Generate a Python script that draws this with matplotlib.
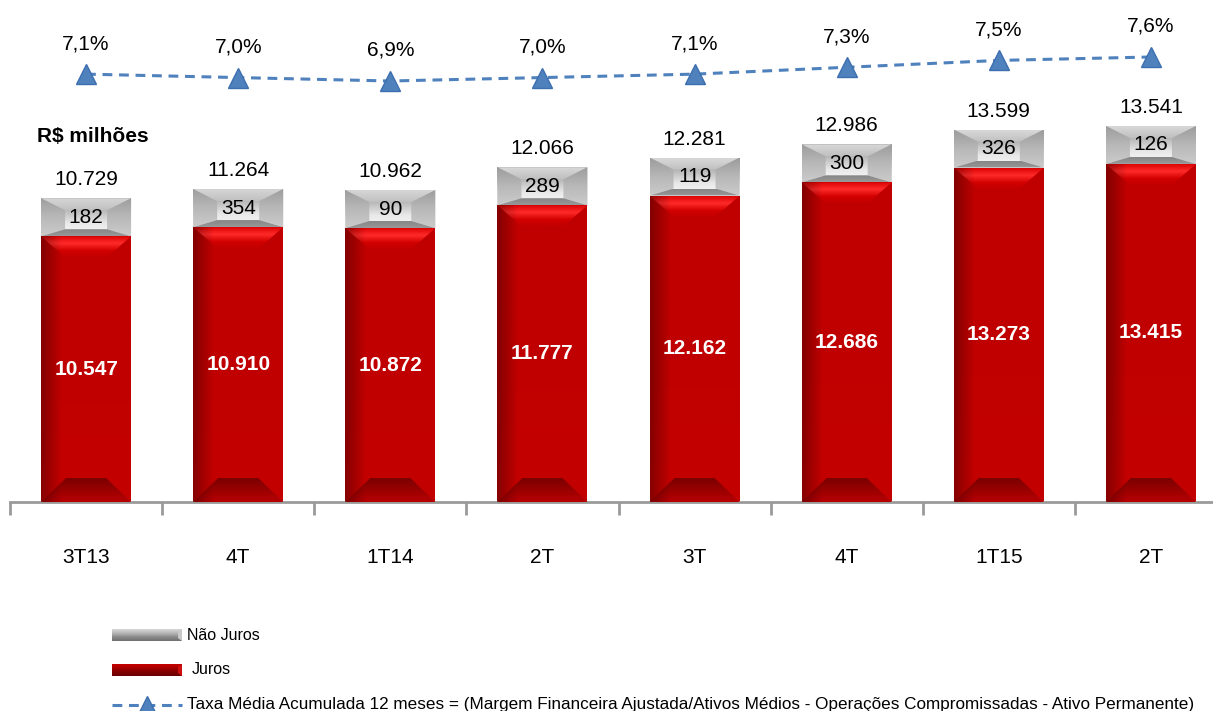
import matplotlib
matplotlib.use('Agg')
import matplotlib.pyplot as plt
import numpy as np
from matplotlib.patches import Polygon
from matplotlib.colors import LinearSegmentedColormap

plt.rcParams['font.family'] = ['Liberation Sans', 'DejaVu Sans']

categories = ['3T13', '4T', '1T14', '2T', '3T', '4T', '1T15', '2T']
juros = [10547, 10910, 10872, 11777, 12162, 12686, 13273, 13415]
nao_juros = [182, 354, 90, 289, 119, 300, 326, 126]
totals = [10729, 11264, 10962, 12066, 12281, 12986, 13599, 13541]
taxa = [7.1, 7.0, 6.9, 7.0, 7.1, 7.3, 7.5, 7.6]
taxa_labels = ['7,1%', '7,0%', '6,9%', '7,0%', '7,1%', '7,3%', '7,5%', '7,6%']

W, H = 1213, 711
fig = plt.figure(figsize=(W / 100, H / 100), dpi=100)

# main axes: baseline at 502 px, category step 152 px, first center at 87 px
left_px, right_px = 87 - 152 * 0.5 - 1, 87 + 152 * 7.5
ax = fig.add_axes([left_px / W, (H - 502) / H, (right_px - left_px) / W, 502 / H])
ymax = 502 / 0.0252
ax.set_xlim(-0.5, 7.5)
ax.set_ylim(0, ymax)

px_x = 1.0 / 152          # data units per pixel, x
px_y = ymax / 502         # data units per pixel, y


def grad_fill(ax, poly, colors, x0, x1, y0, y1, zorder, horizontal=False):
    cmap = LinearSegmentedColormap.from_list('g', colors)
    g = np.linspace(0, 1, 256)
    g = g.reshape(1, -1) if horizontal else g.reshape(-1, 1)
    p = Polygon(poly, closed=True, facecolor='none', edgecolor='none', zorder=zorder)
    ax.add_patch(p)
    im = ax.imshow(g, cmap=cmap, extent=[x0, x1, y0, y1], origin='upper',
                   aspect='auto', zorder=zorder, interpolation='bilinear')
    im.set_clip_path(p)


def bevel_box(ax, xc, w, y0, y1, face, top, bottom, bx, by_top, by_bot, side=None, z=2):
    x0, x1 = xc - w / 2, xc + w / 2
    grad_fill(ax, [(x0, y0), (x1, y0), (x1, y1), (x0, y1)], face, x0, x1, y1, y0, z)
    if side is not None:
        for poly in ([(x0, y0), (x0 + bx, y0 + by_bot), (x0 + bx, y1 - by_top), (x0, y1)],
                     [(x1, y0), (x1 - bx, y0 + by_bot), (x1 - bx, y1 - by_top), (x1, y1)]):
            grad_fill(ax, poly, side, x0, x1, y1, y0, z + 1)
    grad_fill(ax, [(x0, y1), (x1, y1), (x1 - bx, y1 - by_top), (x0 + bx, y1 - by_top)],
              top, x0, x1, y1, y1 - by_top, z + 1)
    grad_fill(ax, [(x0, y0), (x1, y0), (x1 - bx, y0 + by_bot), (x0 + bx, y0 + by_bot)],
              bottom, x0, x1, y0 + by_bot, y0, z + 1)


bar_w = 90 * px_x
min_gray = 38 * px_y   # gray segment drawn with a minimum visible height, as in the original
x = np.arange(len(categories))

for i in range(len(categories)):
    r_top = juros[i]
    g_top = r_top + max(nao_juros[i], min_gray)
    x0 = x[i] - bar_w / 2
    # red (Juros)
    bevel_box(ax, x[i], bar_w, 0, r_top,
              face=['#c40000', '#c00000', '#c00000'],
              top=['#c00000', '#d20000', '#ff2a2a', '#dc0404'],
              bottom=['#b80000', '#9a0000', '#7a0000'],
              bx=25 * px_x, by_top=22 * px_y, by_bot=24 * px_y)
    # darker left edge (transparent overlay)
    grad_fill(ax, [(x0, 0), (x0 + 20 * px_x, 0), (x0 + 20 * px_x, r_top), (x0, r_top)],
              [(0, 0, 0, 0.32), (0, 0, 0, 0.0)], x0, x0 + 20 * px_x, r_top, 0, 4, horizontal=True)
    # gray (Nao Juros)
    bevel_box(ax, x[i], bar_w, r_top, g_top,
              face=['#f8f8f8', '#e8e8e8', '#b8b8b8', '#949494'],
              top=['#c0c0c0', '#d8d8d8'],
              bottom=['#999999', '#858585'],
              side=['#cbcbcb', '#b8b8b8', '#9c9c9c'],
              bx=24 * px_x, by_top=12 * px_y, by_bot=7 * px_y)
    ax.text(x[i], r_top / 2, f'{juros[i]:,}'.replace(',', '.'), ha='center', va='center',
            color='white', fontsize=15, fontweight='bold', zorder=10)
    ax.text(x[i], (r_top + g_top) / 2, str(nao_juros[i]), ha='center', va='center',
            color='black', fontsize=15, zorder=10)
    ax.text(x[i], g_top + 9 * px_y, f'{totals[i]:,}'.replace(',', '.'), ha='center', va='bottom',
            color='black', fontsize=15, zorder=10)

for s in ['top', 'right', 'left']:
    ax.spines[s].set_visible(False)
ax.spines['bottom'].set_color('#9a9a9a')
ax.spines['bottom'].set_linewidth(2)
ax.set_yticks([])
ax.set_xticks(np.arange(-0.5, 8.0, 1.0))
ax.set_xticklabels([])
ax.tick_params(axis='x', which='major', length=9, width=2, color='#9a9a9a', direction='out')
ax.set_xticks(x, minor=True)
ax.set_xticklabels(categories, minor=True, fontsize=15)
ax.tick_params(axis='x', which='minor', length=0, pad=33)

# rate line
ax2 = ax.twinx()
ax2.set_ylim(6.9 - 421 / 34.3, 6.9 + 81 / 34.3)
ax2.axis('off')
ax2.plot(x, taxa, color='#4f81bd', linestyle=(0, (3.2, 2.2)), linewidth=2.2,
         marker='^', markersize=15, markerfacecolor='#4f81bd', markeredgecolor='#3d6fb0', zorder=5)
for i in range(len(categories)):
    ax2.text(x[i], taxa[i] + 21 / 34.3, taxa_labels[i], ha='center', va='bottom', fontsize=15)

fig.text(37 / W, 1 - 136 / H, 'R$ milhões', fontsize=15, fontweight='bold', va='center', ha='left')

# legend drawn in a pixel-coordinate overlay
lg = fig.add_axes([0, 0, 1, 1])
lg.set_xlim(0, W)
lg.set_ylim(H, 0)
lg.axis('off')
lg.patch.set_alpha(0)


def leg_patch(y0, y1, face, cap):
    x0, x1 = 112, 182
    grad_fill(lg, [(x0, y0), (x1, y0), (x1, y1), (x0, y1)], face, x0, x1, y1, y0, 2)
    lg.add_patch(Polygon([(x1, y0), (x1, y1), (x1 - 4, y1 - 3), (x1 - 4, y0 + 3)],
                         facecolor=cap, edgecolor='none', zorder=3))


leg_patch(629, 641, ['#d8d8d8', '#b8b8b8', '#8a8a8a', '#707070'], '#c8c8c8')
leg_patch(664, 676, ['#c80000', '#a80000', '#800000', '#6a0000'], '#d01010')
lg.text(187, 635, 'Não Juros', fontsize=11.5, va='center', ha='left')
lg.text(192, 670, 'Juros', fontsize=11.5, va='center', ha='left')
lg.plot([112, 182], [705, 705], color='#4f81bd', linestyle=(0, (3.2, 2.2)), linewidth=2.2)
lg.plot([147], [704], marker='^', markersize=11, color='#4f81bd', markeredgecolor='#3d6fb0')
lg.text(187, 704, 'Taxa Média Acumulada 12 meses = (Margem Financeira Ajustada/Ativos Médios - '
        'Operações Compromissadas - Ativo Permanente)', fontsize=12.3, va='center', ha='left')
lg.set_xlim(0, W)
lg.set_ylim(H, 0)

fig.savefig('out.png', dpi=100)
